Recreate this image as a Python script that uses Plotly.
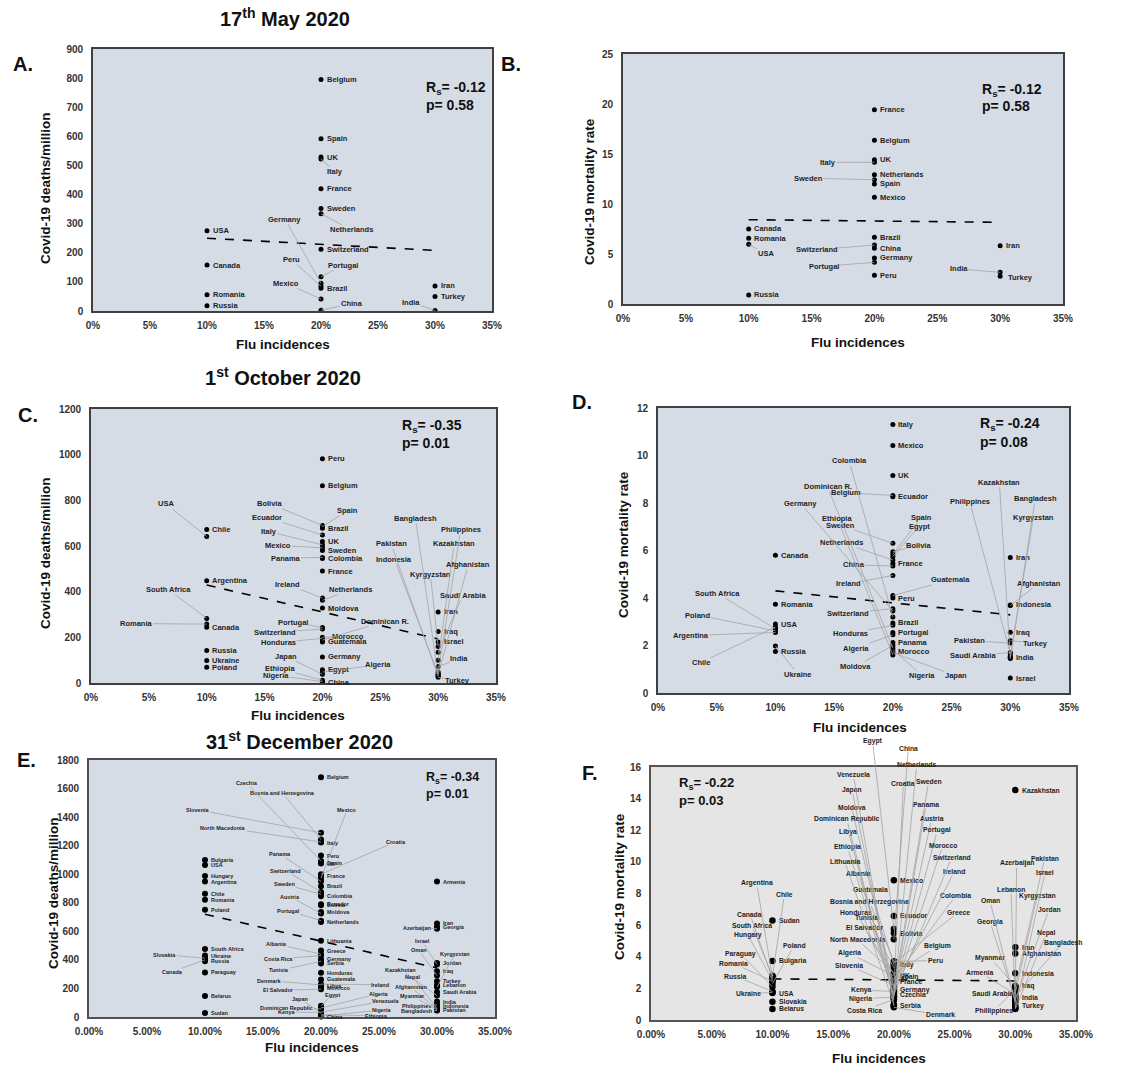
import plotly.graph_objects as go

FONT = "Liberation Sans, Arial, sans-serif"
W, H = 1139, 1067

# ======================= DATA =======================
FLU_LEVELS = [0.10, 0.20, 0.30]
TREND_X = [0.10, 0.30]

# ---- A: 17th May 2020, Covid-19 deaths/million ----
A_c10 = ["USA", "Canada", "Romania", "Russia"]
A_v10 = [276, 158, 56, 18]
A_c20 = ["Belgium", "Spain", "UK", "Italy", "France", "Sweden", "Netherlands", "Switzerland",
         "Portugal", "Germany", "Peru", "Brazil", "Mexico", "China"]
A_v20 = [795, 592, 529, 522, 420, 352, 334, 212, 118, 95, 85, 78, 41, 3]
A_c30 = ["Iran", "Turkey", "India"]
A_v30 = [86, 50, 2]
A_trend = [250, 208]
A_stats = ["-0.12", "0.58"]

# ---- B: 17th May 2020, Covid-19 mortality rate ----
B_c10 = ["Canada", "Romania", "USA", "Russia"]
B_v10 = [7.5, 6.57, 5.97, 0.9]
B_c20 = ["France", "Belgium", "UK", "Italy", "Netherlands", "Sweden", "Spain", "Mexico",
         "Brazil", "Switzerland", "China", "Germany", "Portugal", "Peru"]
B_v20 = [19.43, 16.37, 14.43, 14.17, 12.93, 12.43, 12.0, 10.67, 6.67, 5.9, 5.57, 4.6, 4.17, 2.87]
B_c30 = ["Iran", "India", "Turkey"]
B_v30 = [5.83, 3.17, 2.77]
B_trend = [8.43, 8.17]
B_stats = ["-0.12", "0.58"]

# ---- C: 1st October 2020, deaths/million ----
C_c10 = ["Chile", "USA", "Argentina", "South Africa", "Romania", "Canada", "Russia", "Ukraine", "Poland"]
C_v10 = [672, 642, 448, 283, 258, 244, 142, 98, 69]
C_c20 = ["Peru", "Belgium", "Bolivia", "Spain", "Brazil", "Ecuador", "UK", "Italy", "Mexico", "Sweden",
         "Panama", "Colombia", "France", "Ireland", "Netherlands", "Moldova", "Portugal", "Switzerland",
         "Morocco", "Honduras", "Dominican R.", "Guatemala", "Germany", "Egypt", "Algeria", "Japan",
         "Ethiopia", "Nigeria", "China"]
C_v20 = [982, 864, 690, 684, 678, 648, 620, 605, 592, 580, 550, 545, 490, 372, 362, 328, 243, 236,
         200, 195, 188, 180, 114, 58, 48, 38, 12, 6, 3]
C_c30 = ["Iran", "Iraq", "Israel", "Kyrgyzstan", "Saudi Arabia", "Kazakhstan", "India", "Philippines",
         "Indonesia", "Afghanistan", "Bangladesh", "Pakistan", "Turkey"]
C_v30 = [311, 226, 180, 160, 135, 100, 72, 48, 40, 37, 33, 28, 25]
C_trend = [429, 193]
C_stats = ["-0.35", "0.01"]

# ---- D: 1st October 2020, mortality rate ----
D_c10 = ["Canada", "Romania", "USA", "Chile", "South Africa", "Poland", "Argentina", "Ukraine", "Russia"]
D_v10 = [5.8, 3.74, 2.9, 2.78, 2.7, 2.62, 2.55, 1.98, 1.75]
D_c20 = ["Italy", "Mexico", "UK", "Belgium", "Ecuador", "Sweden", "Bolivia", "Spain", "Egypt",
         "Netherlands", "France", "China", "Ireland", "Guatemala", "Peru", "Switzerland", "Germany",
         "Colombia", "Brazil", "Honduras", "Portugal", "Algeria", "Panama", "Moldova", "Dominican R.",
         "Nigeria", "Morocco", "Japan", "Ethiopia"]
D_v20 = [11.3, 10.42, 9.16, 8.32, 8.26, 6.3, 5.95, 5.85, 5.75, 5.6, 5.45, 5.35, 4.95, 4.1, 4.0, 3.55,
         3.45, 3.2, 2.95, 2.85, 2.55, 2.45, 2.13, 2.0, 1.9, 1.82, 1.75, 1.7, 1.6]
D_c30 = ["Iran", "Indonesia", "Afghanistan", "Iraq", "Turkey", "Pakistan", "Saudi Arabia",
         "Philippines", "Kyrgyzstan", "India", "Kazakhstan", "Bangladesh", "Israel"]
D_v30 = [5.71, 3.71, 3.68, 2.56, 2.2, 2.1, 1.7, 1.65, 1.55, 1.5, 1.47, 1.45, 0.63]
D_trend = [4.3, 3.29]
D_stats = ["-0.24", "0.08"]

# ---- E: 31st December 2020, deaths/million ----
E_c10 = ["Bulgaria", "USA", "Hungary", "Argentina", "Chile", "Romania", "Poland", "South Africa",
         "Ukraine", "Slovakia", "Canada", "Russia", "Paraguay", "Belarus", "Sudan"]
E_v10 = [1100, 1065, 988, 949, 863, 821, 751, 476, 430, 412, 400, 390, 312, 147, 28]
E_c20 = ["Belgium", "Slovenia", "Bosnia and Herzegovina", "North Macedonia", "Italy", "Peru", "Czechia",
         "Spain", "UK", "Croatia", "France", "Mexico", "Panama", "Brazil", "Switzerland", "Sweden",
         "Colombia", "Ecuador", "Bolivia", "Moldova", "Austria", "Portugal", "Netherlands", "Lithuania",
         "Greece", "Albania", "Costa Rica", "Germany", "Tunisia", "Serbia", "Honduras", "Guatemala",
         "Ireland", "Denmark", "Libya", "Morocco", "El Salvador", "Egypt", "Algeria", "Dominican Republic",
         "Venezuela", "Kenya", "Japan", "Ethiopia", "Nigeria", "China"]
E_v20 = [1679, 1290, 1243, 1226, 1222, 1131, 1092, 1081, 1075, 1000, 990, 972, 950, 916, 875, 860,
         845, 790, 782, 735, 725, 675, 665, 534, 465, 440, 430, 405, 390, 375, 310, 263,
         230, 225, 215, 200, 195, 78, 63, 56, 34, 32, 27, 16, 6, 3]
E_c30 = ["Armenia", "Iran", "Georgia", "Azerbaijan", "Jordan", "Israel", "Iraq", "Oman", "Turkey",
         "Lebanon", "Kyrgyzstan", "Saudi Arabia", "Kazakhstan", "India", "Philippines", "Indonesia",
         "Nepal", "Afghanistan", "Myanmar", "Pakistan", "Bangladesh"]
E_v30 = [949, 655, 630, 618, 378, 368, 320, 290, 250, 225, 210, 175, 150, 108, 85, 80, 60, 55, 50, 47, 45]
E_trend = [720, 343]
E_stats = ["-0.34", "0.01"]

# ---- F: 31st December 2020, mortality rate ----
F_c10 = ["Sudan", "Bulgaria", "South Africa", "Chile", "Argentina", "Canada", "Hungary", "Romania",
         "Poland", "Paraguay", "Russia", "Ukraine", "USA", "Slovakia", "Belarus"]
F_v10 = [6.3, 3.73, 2.8, 2.75, 2.7, 2.6, 2.5, 2.45, 2.3, 2.1, 1.8, 1.75, 1.7, 1.16, 0.7]
F_c20 = ["Mexico", "Ecuador", "Egypt", "Bolivia", "China", "Bosnia and Herzegovina", "Peru", "Greece",
         "Guatemala", "Italy", "Tunisia", "North Macedonia", "El Salvador", "Belgium", "Algeria", "UK",
         "Spain", "Colombia", "Honduras", "France", "Slovenia", "Moldova", "Albania", "Ireland", "Croatia",
         "Sweden", "Germany", "Kenya", "Austria", "Portugal", "Morocco", "Panama", "Switzerland", "Czechia",
         "Netherlands", "Japan", "Ethiopia", "Nigeria", "Libya", "Dominican Republic", "Costa Rica",
         "Lithuania", "Venezuela", "Serbia", "Denmark"]
F_v20 = [8.84, 6.58, 5.75, 5.5, 5.1, 3.7, 3.7, 3.6, 3.5, 3.5, 3.3, 3.0, 2.9, 2.9, 2.8, 2.8,
         2.7, 2.6, 2.5, 2.45, 2.2, 2.1, 2.0, 2.0, 1.9, 1.9, 1.9, 1.8, 1.8, 1.7, 1.7, 1.6, 1.6, 1.6,
         1.5, 1.5, 1.5, 1.45, 1.4, 1.3, 1.3, 1.0, 0.9, 0.9, 0.8]
F_c30 = ["Kazakhstan", "Iran", "Afghanistan", "Indonesia", "Iraq", "Myanmar", "Pakistan",
         "Phillippines", "Saudi Arabia", "Kyrgyzstan", "Armenia", "Bangladesh", "India", "Jordan",
         "Azerbaijan", "Georgia", "Oman", "Turkey", "Lebanon", "Israel", "Nepal"]
F_v30 = [14.54, 4.6, 4.2, 2.95, 2.15, 2.15, 2.1, 1.95, 1.7, 1.7, 1.65, 1.5, 1.45, 1.3,
         1.2, 1.2, 1.1, 0.9, 0.8, 0.75, 0.7]
F_trend = [2.6, 2.47]
F_stats = ["-0.22", "0.03"]

# ======================= LABEL LAYOUT (x in %, y in data units) =======================
A_lead = {"Italy": (21.24, 479), "Netherlands": (22.64, 279), "Germany": (16.84, 316),
          "Peru": (17.37, 178), "Portugal": (21.97, 157), "Mexico": (16.93, 95),
          "China": (22.7, 25), "India": (27.9, 29)}
A_txt = {}
B_lead = {"Italy": (16.33, 14.17), "Sweden": (14.74, 12.57), "Switzerland": (15.4, 5.43),
          "Portugal": (15.99, 3.77), "USA": (11.36, 5.0), "India": (26.69, 3.5)}
B_txt = {"Turkey": (30.54, 2.65)}
C_lead = {"USA": (6.48, 784), "South Africa": (6.68, 409), "Romania": (3.91, 260),
          "Bolivia": (15.46, 785), "Spain": (22.17, 756), "Ecuador": (15.23, 724), "Italy": (15.34, 664),
          "Mexico": (16.15, 603), "Panama": (16.81, 547), "Ireland": (16.98, 431),
          "Netherlands": (22.45, 409), "Portugal": (17.44, 266), "Switzerland": (15.89, 223),
          "Dominican R.": (25.42, 270), "Honduras": (16.21, 178), "Morocco": (22.17, 204),
          "Japan": (16.84, 117), "Algeria": (24.84, 80), "Ethiopia": (16.32, 63), "Nigeria": (16.03, 34),
          "Saudi Arabia": (32.12, 384), "India": (31.84, 107), "Turkey": (31.64, 12),
          "Bangladesh": (28.04, 721), "Philippines": (31.95, 672), "Kazakhstan": (31.4, 613),
          "Pakistan": (25.94, 609), "Indonesia": (26.22, 543), "Kyrgyzstan": (29.33, 477),
          "Afghanistan": (32.61, 520)}
C_txt = {}
D_lead = {"Chile": (3.66, 1.29), "South Africa": (5.05, 4.2), "Poland": (3.4, 3.28),
          "Argentina": (2.78, 2.42), "Ukraine": (11.91, 0.8), "Belgium": (15.97, 8.43),
          "Dominican R.": (14.44, 8.68), "Colombia": (16.28, 9.78), "Germany": (12.14, 7.98),
          "Ethiopia": (15.26, 7.35), "Sweden": (15.51, 7.07), "Bolivia": (22.21, 6.23),
          "Spain": (22.4, 7.38), "Egypt": (22.24, 7.03), "Netherlands": (15.66, 6.33),
          "China": (16.65, 5.39), "Ireland": (16.25, 4.59), "Guatemala": (24.9, 4.76),
          "Switzerland": (16.22, 3.36), "Honduras": (16.39, 2.52), "Algeria": (16.85, 1.89),
          "Moldova": (16.85, 1.12), "Nigeria": (22.52, 0.73), "Japan": (25.35, 0.73),
          "Afghanistan": (32.42, 4.62), "Kazakhstan": (29.07, 8.87), "Philippines": (26.55, 8.05),
          "Bangladesh": (32.13, 8.19), "Kyrgyzstan": (31.96, 7.39), "Pakistan": (26.55, 2.21),
          "Turkey": (32.13, 2.1), "Saudi Arabia": (26.8, 1.58)}
D_txt = {}
E_lead = {"Slovakia": (6.52, 436), "Canada": (7.18, 317), "Slovenia": (9.4, 1450),
          "North Macedonia": (11.58, 1327), "Bosnia and Herzegovina": (16.7, 1567), "Czechia": (13.59, 1637),
          "Mexico": (22.24, 1450), "Croatia": (26.49, 1229), "Panama": (16.49, 1140),
          "Switzerland": (16.98, 1026), "Sweden": (16.84, 930), "Austria": (17.33, 842),
          "Portugal": (17.21, 744), "Albania": (16.18, 511), "Costa Rica": (16.35, 408),
          "Tunisia": (16.41, 326), "Denmark": (15.55, 254), "El Salvador": (16.35, 187),
          "Ireland": (25.11, 226), "Egypt": (20.95, 152), "Algeria": (24.97, 163), "Venezuela": (25.63, 114),
          "Japan": (18.19, 128), "Dominican Republic": (17.04, 65), "Kenya": (17.04, 35),
          "Nigeria": (25.26, 49), "Ethiopia": (24.8, 9), "Azerbaijan": (28.25, 622), "Israel": (28.71, 529),
          "Oman": (28.42, 471), "Kyrgyzstan": (31.55, 443), "Kazakhstan": (26.87, 331), "Nepal": (27.9, 280),
          "Afghanistan": (27.73, 210), "Myanmar": (27.93, 145), "Philippines": (28.19, 79),
          "Bangladesh": (28.3, 44)}
E_txt = {}
F_lead = {"Argentina": (8.7, 8.65), "Chile": (10.98, 7.91), "Canada": (8.15, 6.69),
          "South Africa": (8.29, 5.97), "Hungary": (7.96, 5.4), "Poland": (11.78, 4.7),
          "Paraguay": (7.38, 4.18), "Romania": (6.83, 3.57), "Russia": (6.94, 2.78), "Ukraine": (8.02, 1.65),
          "Egypt": (18.25, 17.62), "Venezuela": (16.66, 15.51), "Japan": (16.55, 14.56),
          "Moldova": (16.52, 13.46), "Dominican Republic": (16.11, 12.72), "Libya": (16.25, 11.92),
          "Ethiopia": (16.17, 10.95), "Lithuania": (15.95, 10.04), "Albania": (17.1, 9.24),
          "Guatemala": (18.09, 8.27), "Bosnia and Herzegovina": (17.98, 7.49), "Honduras": (16.91, 6.81),
          "Tunisia": (17.82, 6.48), "El Salvador": (17.57, 5.82), "North Macedonia": (17.02, 5.06),
          "Algeria": (16.33, 4.22), "Slovenia": (16.33, 3.42), "Kenya": (17.32, 1.9), "Nigeria": (17.27, 1.35),
          "Costa Rica": (17.62, 0.63), "China": (21.19, 17.19), "Netherlands": (21.88, 16.14),
          "Croatia": (20.78, 14.98), "Sweden": (22.87, 15.08), "Panama": (22.65, 13.61),
          "Austria": (23.11, 12.72), "Portugal": (23.58, 12.0), "Morocco": (24.02, 11.03),
          "Switzerland": (24.76, 10.25), "Ireland": (24.98, 9.39), "Colombia": (25.09, 7.85),
          "Greece": (25.31, 6.81), "Belgium": (23.58, 4.66), "Peru": (23.39, 3.76), "Denmark": (23.8, 0.32),
          "Pakistan": (32.42, 10.23), "Azerbaijan": (30.11, 9.92), "Israel": (32.45, 9.35),
          "Lebanon": (29.65, 8.23), "Kyrgyzstan": (31.81, 7.85), "Oman": (27.92, 7.53), "Jordan": (32.8, 7.0),
          "Georgia": (27.92, 6.22), "Nepal": (32.56, 5.5), "Bangladesh": (33.93, 4.89),
          "Myanmar": (27.92, 3.95), "Armenia": (27.09, 3.0), "Saudi Arabia": (28.14, 1.67),
          "Phillippines": (28.25, 0.59)}
F_txt = {}

# ======================= FIGURE =======================
def PX(x):
    return x / W


def PY(y):
    return 1 - y / H


DOMAINS = {1: ((93, 492), (49, 311)), 2: ((623, 1063), (54, 304)), 3: ((91, 496), (409, 683)),
           4: ((658, 1069), (408, 693)), 5: ((89, 495), (760, 1017)), 6: ((651, 1076), (767, 1020))}
YRANGE = {1: (900, 100), 2: (25, 5), 3: (1200, 200), 4: (12, 2), 5: (1800, 200), 6: (16, 2)}
XFMT = {1: ".0%", 2: ".0%", 3: ".0%", 4: ".0%", 5: ".2%", 6: ".2%"}
BG = {1: "#d6dce5", 2: "#d6dce5", 3: "#d6dce5", 4: "#d6dce5", 5: "#d6dce5", 6: "#e5e5e5"}
LINEC = {1: "#404040", 2: "#404040", 3: "#404040", 4: "#404040", 5: "#505050", 6: "#555555"}

fig = go.Figure()
annotations = []
shapes = []
LEADER = "#a3a3a3"
TXT = "#1e1e1e"
layout = {}

for i in range(1, 7):
    (x0, x1), (y0, y1) = DOMAINS[i]
    sx = "" if i == 1 else str(i)
    tf = dict(family=FONT, size=10, color="#333333", weight="bold")
    layout["xaxis" + sx] = dict(domain=[PX(x0), PX(x1)], range=[0, 0.35], dtick=0.05, tick0=0,
                                tickformat=XFMT[i], showgrid=False, zeroline=False, showline=True,
                                mirror=True, linecolor=LINEC[i], linewidth=1.6, ticks="",
                                tickfont=tf, anchor="y" + sx, ticklabelstandoff=4, automargin=False,
                                fixedrange=True)
    layout["yaxis" + sx] = dict(domain=[PY(y1), PY(y0)], range=[0, YRANGE[i][0]], dtick=YRANGE[i][1],
                                tick0=0, showgrid=False, zeroline=False, showline=True, mirror=True,
                                linecolor=LINEC[i], linewidth=1.6, ticks="", tickfont=tf,
                                anchor="x" + sx, ticklabelstandoff=6, automargin=False, fixedrange=True)
    shapes.append(dict(type="rect", xref="x%s domain" % sx, yref="y%s domain" % sx, x0=0, x1=1, y0=0, y1=1,
                       fillcolor=BG[i], line_width=0, layer="below"))


def panel(i, groups, trend, stats, lead, txt, msize, lsize, ssize, stat_pos):
    sx = "" if i == 1 else str(i)
    xa, ya = "x" + sx, "y" + sx
    names, xs, ys = [], [], []
    for lvl, (cs, vs) in zip(FLU_LEVELS, groups):
        for c, v in zip(cs, vs):
            names.append(c)
            xs.append(lvl)
            ys.append(v)
    fig.add_trace(go.Scatter(x=xs, y=ys, mode="markers", text=names, cliponaxis=False,
                             marker=dict(size=msize, color="black"), xaxis=xa, yaxis=ya, showlegend=False))
    fig.add_trace(go.Scatter(x=TREND_X, y=trend, mode="lines", xaxis=xa, yaxis=ya, showlegend=False,
                             line=dict(color="black", width=1.6, dash="dash")))
    f = dict(family=FONT, size=lsize, color=TXT, weight="bold")
    for c, x, y in zip(names, xs, ys):
        if c in lead:
            lx, ly = lead[c]
            annotations.append(dict(x=x, y=y, xref=xa, yref=ya, axref=xa, ayref=ya, ax=lx / 100, ay=ly,
                                    text=c, showarrow=True, arrowhead=0, arrowwidth=0.8, arrowcolor=LEADER,
                                    standoff=0, font=f, borderpad=0, xanchor="center", yanchor="middle"))
        elif c in txt:
            lx, ly = txt[c]
            annotations.append(dict(x=lx / 100, y=ly, xref=xa, yref=ya, text=c, showarrow=False,
                                    xanchor="left", yanchor="middle", font=f, borderpad=0))
        else:
            annotations.append(dict(x=x, y=y, xref=xa, yref=ya, text=c, showarrow=False, xanchor="left",
                                    yanchor="middle", xshift=msize / 2 + 2, font=f, borderpad=0))
    sf = dict(family=FONT, size=ssize, color="#111111", weight="bold")
    (px_, r_y, p_y) = stat_pos
    annotations.append(dict(x=px_ / 100, y=r_y, xref=xa, yref=ya, showarrow=False, xanchor="left",
                            yanchor="middle", text="R<sub>s</sub>= " + stats[0], font=sf))
    annotations.append(dict(x=px_ / 100, y=p_y, xref=xa, yref=ya, showarrow=False, xanchor="left",
                            yanchor="middle", text="p= " + stats[1], font=sf))


panel(1, [(A_c10, A_v10), (A_c20, A_v20), (A_c30, A_v30)], A_trend, A_stats, A_lead, A_txt,
      5, 7.5, 14, (29.06, 766, 709))
panel(2, [(B_c10, B_v10), (B_c20, B_v20), (B_c30, B_v30)], B_trend, B_stats, B_lead, B_txt,
      5, 7.5, 14, (28.4, 21.43, 19.77))
panel(3, [(C_c10, C_v10), (C_c20, C_v20), (C_c30, C_v30)], C_trend, C_stats, C_lead, C_txt,
      5, 7.5, 14, (26.7, 1124, 1051))
panel(4, [(D_c10, D_v10), (D_c20, D_v20), (D_c30, D_v30)], D_trend, D_stats, D_lead, D_txt,
      5, 7.5, 14, (27.28, 11.34, 10.57))
panel(5, [(E_c10, E_v10), (E_c20, E_v20), (E_c30, E_v30)], E_trend, E_stats, E_lead, E_txt,
      6, 5.5, 12.5, (28.88, 1672, 1562))
panel(6, [(F_c10, F_v10), (F_c20, F_v20), (F_c30, F_v30)], F_trend, F_stats, F_lead, F_txt,
      6.5, 6.8, 13, (2.11, 14.98, 13.86))

# ---- titles, panel letters, axis titles ----
def paper_text(text, x, y, size, angle=0):
    annotations.append(dict(x=PX(x), y=PY(y), xref="paper", yref="paper", text=text, showarrow=False,
                            xanchor="center", yanchor="middle", textangle=angle,
                            font=dict(family=FONT, size=size, color="#111111", weight="bold")))


paper_text("17<sup>th</sup> May 2020", 285, 18, 20)
paper_text("1<sup>st</sup> October 2020", 283, 377, 20)
paper_text("31<sup>st</sup> December 2020", 299, 740, 20)
for letter, x, y in [("A.", 23, 64), ("B.", 511, 64), ("C.", 28, 415), ("D.", 582, 402),
                     ("E.", 26, 760), ("F.", 590, 773)]:
    paper_text(letter, x, y, 20)

for x, y in [(283, 345), (858, 342), (298, 715), (860, 727), (312, 1047), (879, 1058)]:
    paper_text("Flu incidences", x, y, 13.5)
for text, x, y in [("Covid-19 deaths/million", 45, 188), ("Covid-19 mortality rate", 590, 192),
                   ("Covid-19 deaths/million", 45, 553), ("Covid-19 mortality rate", 623, 545),
                   ("Covid-19 deaths/million", 53, 893), ("Covid-19 mortality rate", 619, 887)]:
    paper_text(text, x, y, 13.5, angle=-90)

fig.update_layout(width=W, height=H, margin=dict(l=0, r=0, t=0, b=0, pad=0, autoexpand=False),
                  paper_bgcolor="white", plot_bgcolor="rgba(0,0,0,0)", annotations=annotations,
                  shapes=shapes, **layout)

fig.write_html("out.html", config={"displayModeBar": False},
               post_script="document.body.style.margin='0px';")
